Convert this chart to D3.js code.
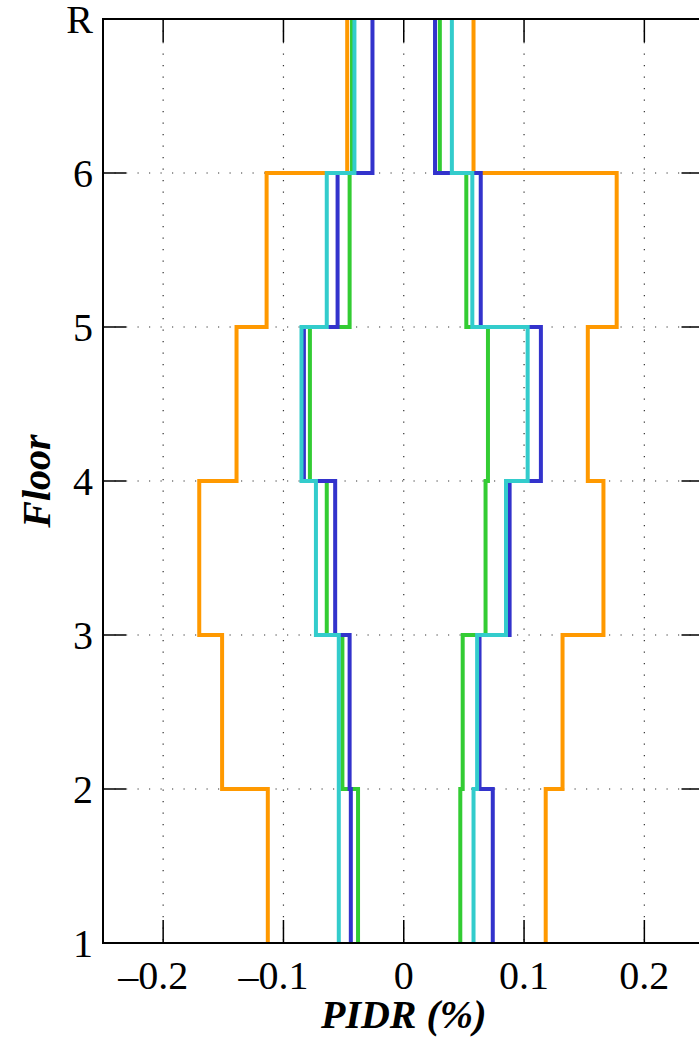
<!DOCTYPE html>
<html>
<head>
<meta charset="utf-8">
<script src="https://cdn.jsdelivr.net/npm/d3@7"></script>
<style>
    body { margin: 0; background: #fff; }
    svg { display: block; }
    .tick-label { font-family: "Liberation Serif", "Times New Roman", serif; font-size: 40px; fill: #000; }
    .axis-title { font-family: "Liberation Serif", "Times New Roman", serif; font-size: 40px; font-weight: bold; font-style: italic; fill: #000; }
</style>
</head>
<body>
<div id="chart"></div>
<script>
// Floor levels (y axis) and x ticks
const floorLabels = ["1", "2", "3", "4", "5", "6", "R"];
const xTicks = [-0.2, -0.1, 0, 0.1, 0.2];
const xTickLabels = ["\u20130.2", "\u20130.1", "0", "0.1", "0.2"];

// Story drift envelopes (story 1..6), min and max per series
const orangeMin = [-0.113, -0.151, -0.170, -0.139, -0.114, -0.047];
const orangeMax = [0.118, 0.132, 0.166, 0.153, 0.177, 0.058];
const greenMin = [-0.038, -0.051, -0.064, -0.078, -0.045, -0.043];
const greenMax = [0.047, 0.049, 0.068, 0.070, 0.052, 0.030];
const blueMin = [-0.044, -0.045, -0.057, -0.083, -0.055, -0.026];
const blueMax = [0.074, 0.063, 0.088, 0.114, 0.064, 0.026];
const cyanMin = [-0.054, -0.054, -0.073, -0.085, -0.064, -0.041];
const cyanMax = [0.058, 0.061, 0.085, 0.103, 0.057, 0.040];

const series = [
    { color: "#FF9900", min: orangeMin, max: orangeMax },
    { color: "#33CC33", min: greenMin, max: greenMax },
    { color: "#3333CC", min: blueMin, max: blueMax },
    { color: "#33CCCC", min: cyanMin, max: cyanMax }
];

const width = 699, height = 1037;
const margin = { top: 19, left: 103, bottom: 94 };
// plot runs a bit past the right edge of the picture
const plotRight = 704.5;

const svg = d3.select("#chart").append("svg")
    .attr("width", width)
    .attr("height", height);

const x = d3.scaleLinear().domain([-0.25, 0.25]).range([margin.left, plotRight]);
const y = d3.scaleLinear().domain([0, floorLabels.length - 1]).range([height - margin.bottom, margin.top]);

const x0 = x.range()[0], x1 = x.range()[1];
const yTop = y.range()[1], yBot = y.range()[0];

// Dotted grid
const grid = svg.append("g")
    .attr("stroke", "#333")
    .attr("stroke-width", 1.2)
    .attr("stroke-dasharray", "1.2,10.3");

grid.selectAll(".vgrid")
    .data(xTicks)
    .enter().append("line")
    .attr("x1", d => x(d)).attr("x2", d => x(d))
    .attr("y1", yTop).attr("y2", yBot);

grid.selectAll(".hgrid")
    .data(d3.range(1, floorLabels.length - 1))
    .enter().append("line")
    .attr("x1", x0).attr("x2", x1)
    .attr("y1", d => y(d)).attr("y2", d => y(d));

// Step profile: value held constant over each story
function stepPoints(vals) {
    const pts = [];
    vals.forEach((v, i) => {
        pts.push([v, i]);
        pts.push([v, i + 1]);
    });
    return pts;
}

const line = d3.line()
    .x(d => x(d[0]))
    .y(d => y(d[1]));

series.forEach(s => {
    [s.min, s.max].forEach(vals => {
        svg.append("path")
            .attr("d", line(stepPoints(vals)))
            .attr("fill", "none")
            .attr("stroke", s.color)
            .attr("stroke-width", 4)
            .attr("stroke-linejoin", "miter");
    });
});

// Axes box with inward ticks on all sides
const axisG = svg.append("g").attr("stroke", "#000");
axisG.append("rect")
    .attr("x", x0).attr("y", yTop)
    .attr("width", x1 - x0).attr("height", yBot - yTop)
    .attr("fill", "none")
    .attr("stroke-width", 2);

const tickLen = 23;
xTicks.forEach(t => {
    axisG.append("line").attr("x1", x(t)).attr("x2", x(t))
        .attr("y1", yBot).attr("y2", yBot - tickLen).attr("stroke-width", 1.5);
    axisG.append("line").attr("x1", x(t)).attr("x2", x(t))
        .attr("y1", yTop).attr("y2", yTop + tickLen).attr("stroke-width", 1.5);
});
d3.range(1, floorLabels.length - 1).forEach(f => {
    axisG.append("line").attr("x1", x0).attr("x2", x0 + tickLen)
        .attr("y1", y(f)).attr("y2", y(f)).attr("stroke-width", 1.5);
    axisG.append("line").attr("x1", x1).attr("x2", x1 - tickLen)
        .attr("y1", y(f)).attr("y2", y(f)).attr("stroke-width", 1.5);
});

// Tick labels
svg.selectAll(".xlab")
    .data(xTicks)
    .enter().append("text")
    .attr("class", "tick-label")
    .attr("x", (d, i) => x(d) - (d < 0 ? 10 : 0))
    .attr("y", yBot + 46)
    .attr("text-anchor", "middle")
    .text((d, i) => xTickLabels[i]);

svg.selectAll(".ylab")
    .data(floorLabels)
    .enter().append("text")
    .attr("class", "tick-label")
    .attr("x", x0 - 10)
    .attr("y", (d, i) => y(i) + 14)
    .attr("text-anchor", "end")
    .text(d => d);

// Axis titles
svg.append("text")
    .attr("class", "axis-title")
    .attr("x", x(0))
    .attr("y", 1028)
    .attr("text-anchor", "middle")
    .text("PIDR (%)");

svg.append("text")
    .attr("class", "axis-title")
    .attr("transform", "translate(50," + y(3) + ") rotate(-90)")
    .attr("text-anchor", "middle")
    .text("Floor");
</script>
</body>
</html>
